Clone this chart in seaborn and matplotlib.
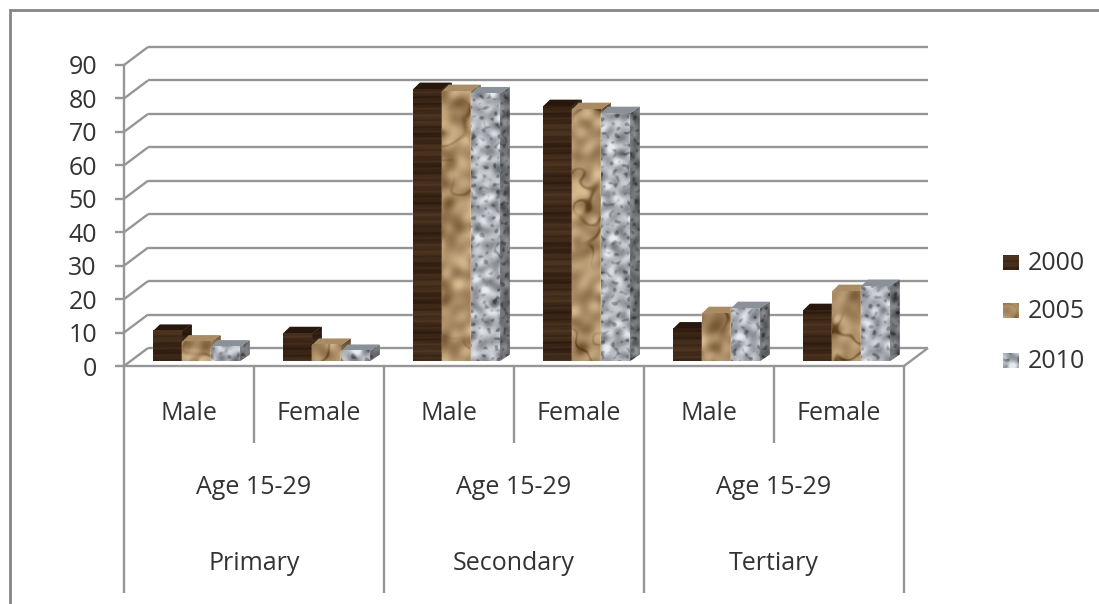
import numpy as np
import pandas as pd
import matplotlib
matplotlib.use('Agg')
import matplotlib.pyplot as plt
import seaborn as sns
from matplotlib.lines import Line2D
from matplotlib.patches import Polygon
from matplotlib.transforms import IdentityTransform, offset_copy

# values
categories = ['Male', 'Female', 'Male', 'Female', 'Male', 'Female']
groups = ['Primary', 'Secondary', 'Tertiary']
age_label = 'Age 15-29'
years = ['2000', '2005', '2010']
v2000 = [9.0, 8.3, 81.3, 76.2, 9.7, 15.2]
v2005 = [5.8, 4.8, 80.7, 75.3, 14.3, 20.9]
v2010 = [4.3, 3.0, 80.0, 74.1, 15.8, 22.4]
yticks = list(range(0, 100, 10))

GRID = '#969696'
TEXT = '#333333'
FS = 18

W, H = 1099, 604
sns.set_theme(style='white')
plt.rcParams['font.family'] = ['Open Sans', 'DejaVu Sans']

df = pd.DataFrame({
    'slot': list(range(6)) * 3,
    'value': v2000 + v2005 + v2010,
    'year': [y for y in years for _ in range(6)],
})

fig = plt.figure(figsize=(W / 100, H / 100), dpi=100, facecolor='white')
ax = fig.add_axes([124 / W, (H - 366) / H, 780 / W, 301 / H], facecolor='none')

palette = {'2000': '#3d2616', '2005': '#b8925f', '2010': '#c3c7cb'}
sns.barplot(data=df, x='slot', y='value', hue='year', order=list(range(6)),
            palette=palette, width=0.669, saturation=1, legend=False, ax=ax)
ax.set_xlim(-0.5, 5.5)
ax.set_ylim(0, 90)
ax.set_xlabel('')
ax.set_ylabel('')


# bumpy surface made of plane waves in many directions, no random draw involved
def waves(h, w, freq, phase):
    yy, xx = np.mgrid[0:h, 0:w]
    out = np.zeros((h, w))
    n = 16
    for k in range(n):
        ang = k * 2.39996
        f = freq * (0.6 + 0.8 * ((k * 0.618) % 1))
        out += np.sin(f * np.cos(ang) * (xx + phase * 0.7) + f * np.sin(ang) * (yy + phase) + k * 1.7)
    return out / np.sqrt(n / 2)


def wood(h, w, phase=0.0):
    yy, xx = np.mgrid[0:h, 0:w]
    yy = yy + phase
    b = 0.27 + 0.1 * np.sin(yy * 0.83) + 0.13 * np.sin(yy * 0.19 + 1) + 0.06 * np.sin(yy * 1.9 + xx * 0.04)
    b = np.clip(b, 0, 1)
    lo, hi = np.array([44, 26, 14]), np.array([112, 80, 52])
    return (lo + (hi - lo) * b[..., None]) / 255


def crumple(h, w, phase=0.0):
    n = waves(h, w, 0.11, phase) + 0.5 * waves(h, w, 0.27, phase + 11)
    ridge = np.exp(-(n / 0.3) ** 2)
    mask = np.clip(0.5 + 0.5 * waves(h, w, 0.07, phase + 23), 0, 1)
    b = 0.56 + 0.09 * waves(h, w, 0.14, phase + 5) + 0.09 * waves(h, w, 0.33, phase + 31) - 0.4 * ridge * mask
    b = np.clip(b, 0, 1)
    lo, hi = np.array([92, 62, 28]), np.array([232, 204, 160])
    return (lo + (hi - lo) * b[..., None]) / 255


def granite(h, w, phase=0.0):
    soft = waves(h, w, 0.42, phase)
    fine = waves(h, w, 0.8, phase + 17)
    b = 0.68 + 0.14 * soft - 0.3 * np.clip(fine - 0.6, 0, 1.2)
    b = np.clip(b, 0, 1)
    lo, hi = np.array([62, 66, 74]), np.array([232, 235, 240])
    return (lo + (hi - lo) * b[..., None]) / 255


textures = {'2000': wood, '2005': crumple, '2010': granite}
top_colors = {'2000': '#28170c', '2005': '#a98c64', '2010': '#8b9198'}
side_shade = {'2000': 0.75, '2005': 0.72, '2010': 0.62}

# walls and floor, the back plane sits 24 px right and 18 px up
depth_x, depth_y = 24, 18
identity = IdentityTransform()
back = offset_copy(ax.transData, fig=fig, x=depth_x, y=depth_y, units='dots')
line_kw = dict(color=GRID, lw=1.7, clip_on=False, zorder=1, solid_capstyle='butt')
for t in yticks:
    ax.plot([-0.5, 5.5], [t, t], transform=back, **line_kw)
    x0, y0 = ax.transData.transform((-0.5, t))
    ax.plot([x0, x0 + depth_x], [y0, y0 + depth_y], transform=identity, **line_kw)
x0, y0 = ax.transData.transform((5.5, 0))
ax.plot([x0, x0 + depth_x], [y0, y0 + depth_y], transform=identity, **line_kw)

# bars stand a little inside the floor
bar_shift = offset_copy(ax.transData, fig=fig, x=7.7, y=5, units='dots')
bar_dx, bar_dy = 9.5, 6.5
for i, (cont, year) in enumerate(zip(ax.containers, years)):
    z = 3 + i
    tex = textures[year]
    for j, patch in enumerate(cont):
        patch.set_transform(bar_shift)
        patch.set_clip_on(False)
        patch.set_zorder(z)
        bb = patch.get_window_extent()
        left, right, low, high = bb.x0, bb.x1, bb.y0, bb.y1
        phase = 37.0 * j + 13.0 * i
        # side face
        side = Polygon([(right, low), (right + bar_dx, low + bar_dy),
                        (right + bar_dx, high + bar_dy), (right, high)],
                       transform=identity, facecolor=top_colors[year], lw=0, zorder=z, clip_on=False)
        ax.add_patch(side)
        arr = tex(max(int(high - low + bar_dy), 2), 12, phase + 50) * side_shade[year]
        im = ax.imshow(arr, extent=(right, right + bar_dx, low, low + arr.shape[0]),
                       transform=identity, aspect='auto', zorder=z + 0.1, interpolation='bilinear')
        im.set_clip_path(side)
        # top face
        ax.add_patch(Polygon([(left, high), (left + bar_dx * 0.7, high + bar_dy),
                              (right + bar_dx, high + bar_dy), (right, high)],
                             transform=identity, facecolor=top_colors[year], lw=0,
                             zorder=z + 0.2, clip_on=False))
        # front face
        arr = tex(max(int(high - low), 2), int(right - left), phase)
        ax.imshow(arr, extent=(left, right, low, high), transform=identity, aspect='auto',
                  zorder=z + 0.3, interpolation='bilinear', clip_on=False)
ax.set_xlim(-0.5, 5.5)
ax.set_ylim(0, 90)

# axes
for name in ['top', 'right']:
    ax.spines[name].set_visible(False)
for name in ['left', 'bottom']:
    ax.spines[name].set_color(GRID)
    ax.spines[name].set_linewidth(1.7)
    ax.spines[name].set_zorder(8)
ax.set_yticks(yticks)
ax.set_yticklabels([str(t) for t in yticks])
ax.tick_params(axis='y', length=6.5, width=1.7, color=GRID, pad=13, labelsize=FS, labelcolor=TEXT, left=True)
ax.set_xticks([])

# multi level category axis below the floor
level = ax.get_xaxis_transform()
px = 1 / 301
for x in [-0.5, 1.5, 3.5, 5.5]:
    ax.plot([x, x], [0, -(593 - 366) * px], transform=level, **line_kw)
for x in [0.5, 2.5, 4.5]:
    ax.plot([x, x], [0, -(443 - 366) * px], transform=level, **line_kw)
for i, c in enumerate(categories):
    ax.text(i, -(414 - 366) * px, c, transform=level, ha='center', va='center', fontsize=FS, color=TEXT)
for i, g in enumerate(groups):
    x = 2 * i + 0.5
    ax.text(x, -(488 - 366) * px, age_label, transform=level, ha='center', va='center', fontsize=FS, color=TEXT)
    ax.text(x, -(563 - 366) * px, g, transform=level, ha='center', va='center', fontsize=FS, color=TEXT)

# legend
legend_y = [262, 310, 360]
for year, py in zip(years, legend_y):
    arr = textures[year](15, 16)
    fig.figimage(arr, xo=1003, yo=H - py - 8, zorder=5, origin='upper')
    fig.text(1028 / W, (H - py - 2) / H, year, ha='left', va='center', fontsize=FS, color=TEXT)

# chart frame, only its top and left edges fall inside the picture
fig.add_artist(Line2D([10 / W, 10 / W, 1], [0, (H - 9.5) / H, (H - 9.5) / H], transform=fig.transFigure,
                      color='#858585', lw=2.0, solid_joinstyle='miter'))

fig.savefig('out.png', dpi=100)
